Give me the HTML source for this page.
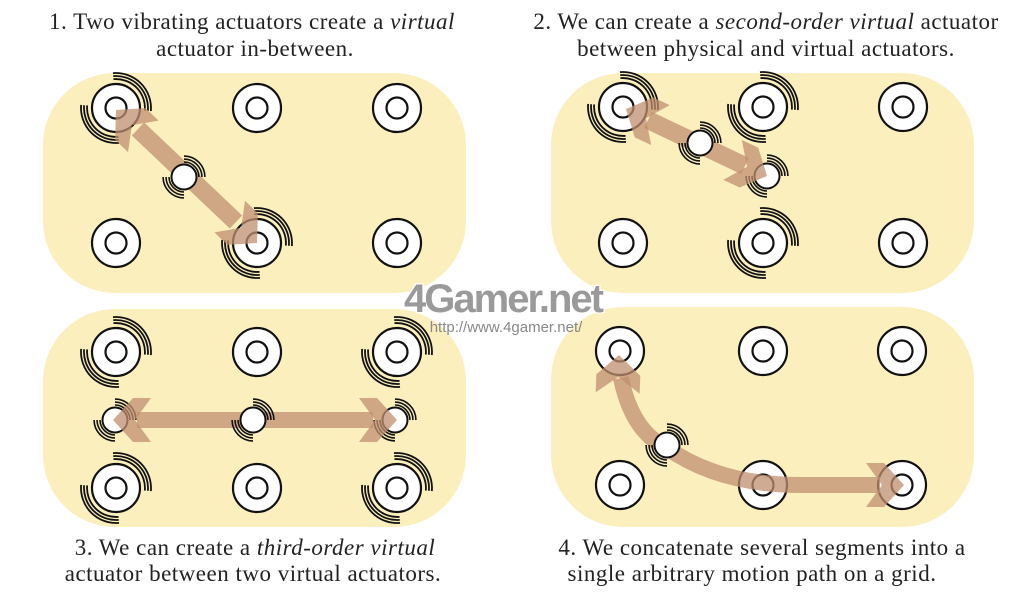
<!DOCTYPE html>
<html><head><meta charset="utf-8"><style>
html,body{margin:0;padding:0;background:#fff;width:1024px;height:597px;overflow:hidden}
svg{display:block}
.t{font-family:"Liberation Serif",serif;font-size:23px;fill:#222;letter-spacing:0.5px}
</style></head><body>
<svg width="1024" height="597" viewBox="0 0 1024 597" xmlns="http://www.w3.org/2000/svg">
<defs>
<g id="act"><circle r="24" fill="#fff" stroke="#111" stroke-width="2.2"/><circle r="10.5" fill="#fff" stroke="#111" stroke-width="2.2"/></g>
<g id="vact"><circle r="12.5" fill="#fff" stroke="#111" stroke-width="2"/></g>
<g id="wb" fill="none" stroke="#111" stroke-width="1.8">
<path d="M18.6,-22.2 A29,29 0 0 1 18.6,22.2"/>
<path d="M20.6,-24.5 A32,32 0 0 1 20.6,24.5"/>
<path d="M22.5,-26.8 A35,35 0 0 1 22.5,26.8"/>
</g>
<g id="ws" fill="none" stroke="#111" stroke-width="1.6">
<path d="M10.6,-10.6 A15,15 0 0 1 10.6,10.6"/>
<path d="M12.7,-12.7 A18,18 0 0 1 12.7,12.7"/>
<path d="M14.8,-14.8 A21,21 0 0 1 14.8,14.8"/>
</g>
<polygon id="ah" points="0,0 -20,-22 -38,-22 -22,0 -38,22 -20,22" fill="#c08f70" fill-opacity="0.75"/>
</defs>

<rect x="43" y="73" width="423" height="220" rx="72" fill="#fbefbe"/>
<rect x="551" y="73" width="423" height="220" rx="72" fill="#fbefbe"/>
<rect x="43" y="309" width="423" height="218" rx="72" fill="#fbefbe"/>
<rect x="551" y="307" width="423" height="220" rx="72" fill="#fbefbe"/>

<!-- Panel 1 -->
<g>
<use href="#act" x="116" y="108"/><use href="#act" x="257" y="108"/><use href="#act" x="397" y="108"/>
<use href="#act" x="116" y="243"/><use href="#act" x="257" y="243"/><use href="#act" x="397" y="243"/>
<use href="#wb" transform="translate(116,108) rotate(-45)"/><use href="#wb" transform="translate(116,108) rotate(135)"/>
<use href="#wb" transform="translate(257,243) rotate(-45)"/><use href="#wb" transform="translate(257,243) rotate(135)"/>
<line x1="138" y1="129" x2="236" y2="222" stroke="#c08f70" stroke-opacity="0.75" stroke-width="18"/>
<use href="#ah" transform="translate(116,110) rotate(224)"/>
<use href="#ah" transform="translate(257,243) rotate(44)"/>
<use href="#vact" x="184" y="177"/>
<use href="#ws" transform="translate(184,177) rotate(-45)"/><use href="#ws" transform="translate(184,177) rotate(135)"/>
</g>

<!-- Panel 2 -->
<g>
<use href="#act" x="623" y="107"/><use href="#act" x="763" y="107"/><use href="#act" x="903" y="107"/>
<use href="#act" x="623" y="243"/><use href="#act" x="763" y="243"/><use href="#act" x="903" y="243"/>
<use href="#wb" transform="translate(623,107) rotate(-45)"/><use href="#wb" transform="translate(623,107) rotate(135)"/>
<use href="#wb" transform="translate(763,107) rotate(-45)"/><use href="#wb" transform="translate(763,107) rotate(135)"/>
<use href="#wb" transform="translate(763,243) rotate(-45)"/><use href="#wb" transform="translate(763,243) rotate(135)"/>
<line x1="648" y1="120" x2="745" y2="166" stroke="#c08f70" stroke-opacity="0.75" stroke-width="18"/>
<use href="#ah" transform="translate(626,109) rotate(205)"/>
<use href="#vact" x="700" y="143"/>
<use href="#ws" transform="translate(700,143) rotate(-45)"/><use href="#ws" transform="translate(700,143) rotate(135)"/>
<use href="#vact" x="767" y="176"/>
<use href="#ws" transform="translate(767,176) rotate(-45)"/><use href="#ws" transform="translate(767,176) rotate(135)"/>
<use href="#ah" transform="translate(767,176) rotate(25)"/>
</g>

<!-- Panel 3 -->
<g>
<use href="#act" x="116" y="352"/><use href="#act" x="257" y="352"/><use href="#act" x="397" y="352"/>
<use href="#act" x="116" y="488"/><use href="#act" x="257" y="488"/><use href="#act" x="397" y="488"/>
<use href="#wb" transform="translate(116,352) rotate(-45)"/><use href="#wb" transform="translate(116,352) rotate(135)"/>
<use href="#wb" transform="translate(116,488) rotate(-45)"/><use href="#wb" transform="translate(116,488) rotate(135)"/>
<use href="#wb" transform="translate(397,352) rotate(-45)"/><use href="#wb" transform="translate(397,352) rotate(135)"/>
<use href="#wb" transform="translate(397,488) rotate(-45)"/><use href="#wb" transform="translate(397,488) rotate(135)"/>
<line x1="137" y1="420" x2="373" y2="420" stroke="#c08f70" stroke-opacity="0.75" stroke-width="16"/>
<use href="#vact" x="115" y="420"/>
<use href="#ws" transform="translate(115,420) rotate(-45)"/><use href="#ws" transform="translate(115,420) rotate(135)"/>
<use href="#vact" x="253" y="420"/>
<use href="#ws" transform="translate(253,420) rotate(-45)"/><use href="#ws" transform="translate(253,420) rotate(135)"/>
<use href="#vact" x="395" y="420"/>
<use href="#ws" transform="translate(395,420) rotate(-45)"/><use href="#ws" transform="translate(395,420) rotate(135)"/>
<use href="#ah" transform="translate(113,420) rotate(180)"/>
<use href="#ah" transform="translate(397,420)"/>
</g>

<!-- Panel 4 -->
<g>
<use href="#act" x="620" y="351"/><use href="#act" x="763" y="351"/><use href="#act" x="902" y="351"/>
<use href="#act" x="620" y="485"/><use href="#act" x="763" y="485"/><use href="#act" x="902" y="485"/>
<path d="M621,378 Q632,432 667,448 Q720,485 800,485 L880,485" fill="none" stroke="#c08f70" stroke-opacity="0.75" stroke-width="16"/>
<use href="#ah" transform="translate(619,355) rotate(-88)"/>
<use href="#ah" transform="translate(904,485)"/>
<use href="#vact" x="667" y="445"/>
<use href="#ws" transform="translate(667,445) rotate(-45)"/><use href="#ws" transform="translate(667,445) rotate(135)"/>
</g>

<text x="503" y="312" text-anchor="middle" font-family="Liberation Sans,sans-serif" font-weight="bold" font-size="40" fill="#9a9a9a" stroke="#fff" stroke-width="2.5" paint-order="stroke" letter-spacing="-2">4Gamer.net</text>
<text x="506" y="332" text-anchor="middle" font-family="Liberation Sans,sans-serif" font-size="15" fill="#888">http://www.4gamer.net/</text>

<text class="t" x="252" y="29" text-anchor="middle">1. Two vibrating actuators create a <tspan font-style="italic">virtual</tspan></text>
<text class="t" x="255" y="56" text-anchor="middle">actuator in-between.</text>
<text class="t" x="766" y="29" text-anchor="middle">2. We can create a <tspan font-style="italic">second-order virtual</tspan> actuator</text>
<text class="t" x="766" y="56" text-anchor="middle">between physical and virtual actuators.</text>
<text class="t" x="255" y="555" text-anchor="middle">3. We can create a <tspan font-style="italic">third-order virtual</tspan></text>
<text class="t" x="253" y="581" text-anchor="middle">actuator between two virtual actuators.</text>
<text class="t" x="762" y="555" text-anchor="middle">4. We concatenate several segments into a</text>
<text class="t" x="752" y="581" text-anchor="middle">single arbitrary motion path on a grid.</text>
</svg>
</body></html>
